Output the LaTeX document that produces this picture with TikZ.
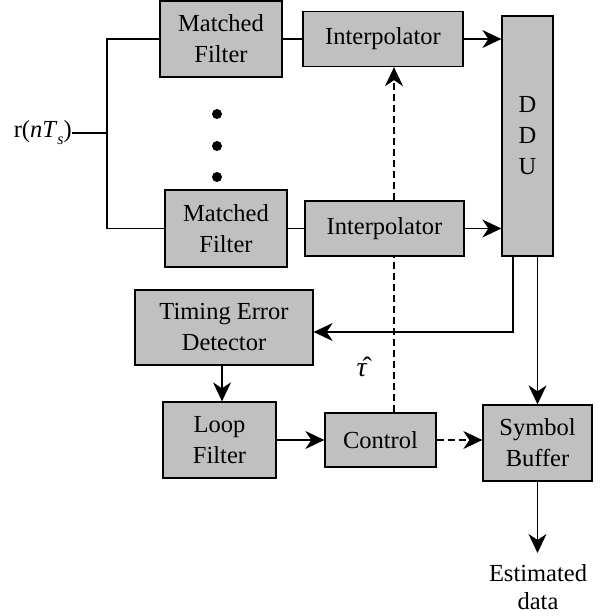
\documentclass[tikz,border=0pt]{standalone}
\usepackage{fontspec}
\setmainfont{LiberationSerif}[Extension=.ttf,UprightFont=*-Regular,ItalicFont=*-Italic,BoldFont=*-Bold,BoldItalicFont=*-BoldItalic]
\usetikzlibrary{arrows.meta}
\begin{document}
\begin{tikzpicture}[x=1pt,y=-1pt,
  blk/.style={draw=black,line width=1.3pt,fill={rgb,255:red,192;green,192;blue,192},inner sep=0pt,align=center,
    font=\fontsize{24.5}{31}\selectfont},
  ln/.style={line width=1.4pt},
  arr/.style={line width=1.4pt,-{Stealth[length=19pt,width=18pt,inset=6pt]}},
  dsh/.style={line width=1.4pt,dash pattern=on 7pt off 4pt},
  txt/.style={inner sep=0pt,align=center,font=\fontsize{24.5}{28}\selectfont}]
\useasboundingbox (0,0) rectangle (602,616);
% blocks
\node[blk,minimum width=122pt,minimum height=76pt] (mf1) at (221,39) {Matched\\Filter};
\node[blk,minimum width=122pt,minimum height=77pt] (mf2) at (226,228.5) {Matched\\Filter};
\node[blk,minimum width=160pt,minimum height=55pt] (ip1) at (383,39) {Interpolator};
\node[blk,minimum width=159pt,minimum height=55pt] (ip2) at (384.5,228.5) {Interpolator};
\node[blk,minimum width=51pt,minimum height=240pt] (ddu) at (527.5,136) {D\\D\\U};
\node[blk,minimum width=178pt,minimum height=75pt] (ted) at (224,327.5) {Timing Error\\Detector};
\node[blk,minimum width=113pt,minimum height=76pt] (lf) at (219.5,440) {Loop\\Filter};
\node[blk,minimum width=111pt,minimum height=54pt] (ctl) at (380.5,440) {Control};
\node[blk,minimum width=109pt,minimum height=76pt] (sb) at (537.5,443) {Symbol\\Buffer};
% texts
\node[txt,anchor=east] (r) at (72,133) {r(\textit{nT}\raisebox{-0.28em}{\fontsize{16}{16}\selectfont\textit{s}})};
\node[txt] (est) at (538,587) {Estimated\\data};
\node[txt] (tau) at (362,367) {\fontsize{28}{28}\selectfont\^{\textit{τ}}};
% dots
\fill (217,114) circle (5pt) (217,146) circle (5pt) (217,177) circle (5pt);
% coordinates
\coordinate (bus) at (107,133);
\coordinate (dx) at (394,0);
\coordinate (fb) at (513,332);
\coordinate (tl) at (222,0);
\coordinate (ee) at (537.5,553);
% input bus
\draw[ln] (r.east) -- (bus);
\draw[ln] (mf1.west) -| (bus) |- (mf2.west);
% forward paths
\draw[ln] (mf1.east) -- (ip1.west);
\draw[ln] (mf2.east) -- (ip2.west);
\draw[arr] (ip1.east) -- (ip1.east -| ddu.west);
\draw[arr] (ip2.east) -- (ip2.east -| ddu.west);
% feedback
\draw[arr] (ddu.south -| fb) -- (fb) -- (fb -| ted.east);
\draw[arr] (ddu.south -| sb.north) -- (sb.north);
\draw[arr] (ted.south -| tl) -- (lf.north -| tl);
\draw[arr] (lf.east) -- (lf.east -| ctl.west);
\draw[dsh,-{Stealth[length=19pt,width=18pt,inset=6pt]}] (ctl.east) -- (ctl.east -| sb.west);
\draw[dsh] (ctl.north -| dx) -- (ip2.south -| dx);
\draw[dsh,-{Stealth[length=19pt,width=18pt,inset=6pt]}] (ip2.north -| dx) -- (ip1.south -| dx);
\draw[arr] (sb.south) -- (ee);
\end{tikzpicture}
\end{document}
